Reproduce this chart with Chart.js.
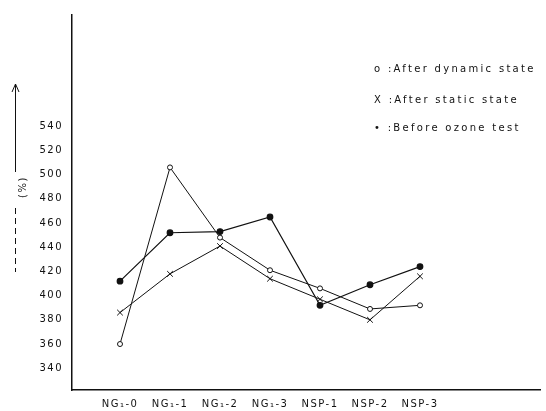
<!DOCTYPE html>
<html>
<head>
<meta charset="utf-8">
<script src="https://cdn.jsdelivr.net/npm/chart.js@4/dist/chart.umd.min.js"></script>
<style>
  html, body { margin: 0; padding: 0; background: #fff; }
  #wrap { width: 546px; height: 411px; position: relative; }
</style>
</head>
<body>
<div id="wrap"><canvas id="chart"></canvas></div>
<script>
var categories = ['NG\u2081-0', 'NG\u2081-1', 'NG\u2081-2', 'NG\u2081-3', 'NSP-1', 'NSP-2', 'NSP-3'];
var afterDynamic = [360, 506, 448, 421, 406, 389, 392];
var afterStatic = [386, 418, 441, 414, 397, 380, 416];
var beforeOzone = [412, 452, 453, 465, 392, 409, 424];
var yTicks = [340, 360, 380, 400, 420, 440, 460, 480, 500, 520, 540];
var legendLines = ['o :After dynamic state', 'X :After static state', '\u2022 :Before ozone test'];

function pts(arr) {
  return arr.map(function (v, i) { return { x: i, y: v }; });
}

var font = { family: 'DejaVu Sans', size: 10 };

var decor = {
  id: 'decor',
  beforeDraw: function (chart) {
    chart.ctx.letterSpacing = '1.5px';
  },
  afterDraw: function (chart) {
    var ctx = chart.ctx;
    ctx.save();
    ctx.strokeStyle = '#111';
    ctx.fillStyle = '#111';
    ctx.lineWidth = 1;
    // arrow on the left
    ctx.beginPath();
    ctx.moveTo(15.5, 172);
    ctx.lineTo(15.5, 84);
    ctx.moveTo(12, 92);
    ctx.lineTo(15.5, 84);
    ctx.lineTo(19, 92);
    ctx.stroke();
    ctx.setLineDash([6, 4]);
    ctx.beginPath();
    ctx.moveTo(15.5, 208);
    ctx.lineTo(15.5, 272);
    ctx.stroke();
    ctx.setLineDash([]);
    // unit label
    ctx.translate(23, 187);
    ctx.rotate(-Math.PI / 2);
    ctx.font = '10px DejaVu Sans';
    ctx.textAlign = 'center';
    ctx.textBaseline = 'middle';
    ctx.fillText('(%)', 0, 0);
    ctx.restore();
    // legend text
    ctx.save();
    ctx.fillStyle = '#111';
    ctx.font = '10px DejaVu Sans';
    ctx.letterSpacing = '2.3px';
    ctx.textBaseline = 'middle';
    var ys = [69, 100, 128];
    legendLines.forEach(function (t, i) { ctx.fillText(t, 374, ys[i]); });
    ctx.restore();
  }
};

new Chart(document.getElementById('chart'), {
  type: 'line',
  data: {
    datasets: [
      {
        label: 'After dynamic state',
        data: pts(afterDynamic),
        borderColor: '#111',
        borderWidth: 1,
        pointStyle: 'circle',
        pointRadius: 2.5,
        pointBackgroundColor: '#fff',
        pointBorderColor: '#111',
        pointBorderWidth: 1
      },
      {
        label: 'After static state',
        data: pts(afterStatic),
        borderColor: '#111',
        borderWidth: 1,
        pointStyle: 'crossRot',
        pointRadius: 4,
        pointBorderColor: '#111',
        pointBorderWidth: 1
      },
      {
        label: 'Before ozone test',
        data: pts(beforeOzone),
        borderColor: '#111',
        borderWidth: 1.2,
        pointStyle: 'circle',
        pointRadius: 2.8,
        pointBackgroundColor: '#111',
        pointBorderColor: '#111'
      }
    ]
  },
  options: {
    responsive: true,
    maintainAspectRatio: false,
    animation: false,
    layout: { padding: { top: 10, right: 6, left: 0, bottom: 0 } },
    plugins: { legend: { display: false }, tooltip: { enabled: false } },
    scales: {
      x: {
        type: 'linear',
        min: -0.96,
        max: 8.4,
        grid: { display: false, drawTicks: false },
        border: { display: true, color: '#111', width: 1.5 },
        afterBuildTicks: function (s) {
          s.ticks = categories.map(function (c, i) { return { value: i }; });
        },
        afterFit: function (s) { s.height = 21; },
        ticks: {
          autoSkip: false,
          maxRotation: 0,
          padding: 8,
          color: '#111',
          font: font,
          callback: function (v) { return categories[v]; }
        }
      },
      y: {
        min: 322,
        max: 632,
        grid: { display: false, drawTicks: false },
        border: { display: true, color: '#111', width: 1.5 },
        afterBuildTicks: function (s) {
          s.ticks = yTicks.map(function (v) { return { value: v }; });
        },
        afterFit: function (s) { s.width = 72; },
        ticks: {
          autoSkip: false,
          padding: 9,
          color: '#111',
          font: font
        }
      }
    }
  },
  plugins: [decor]
});
</script>
</body>
</html>
